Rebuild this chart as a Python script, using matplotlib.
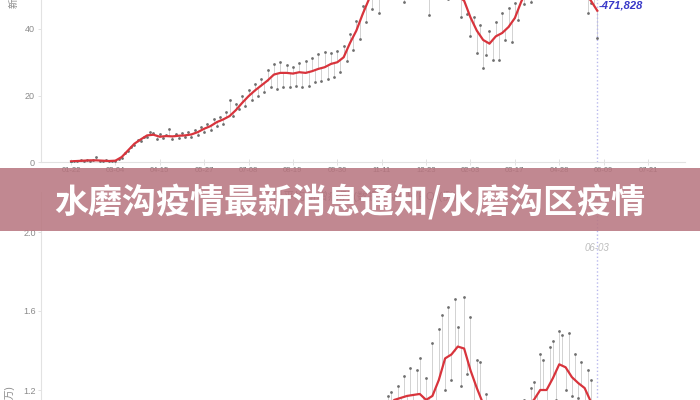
import matplotlib
matplotlib.use('Agg')
import matplotlib.pyplot as plt
import matplotlib.dates as mdates
import numpy as np
import pandas as pd
from matplotlib.patches import Rectangle

plt.rcParams['font.family'] = ['Liberation Sans', 'Noto Sans CJK SC']

title = '水磨沟疫情最新消息通知/水磨沟区疫情'
start = '2020-01-22'
bot_start = '2020-11-05'
marker_date = '2021-06-03'
marker_value = '471,828'
top_ylabel = '新增确诊病例(万)'
bot_ylabel = '新增死亡病例(万)'
x_label = '7日平均新增病例 (数据来源: WHO)(例)'

# new cases (万), every 3 days from 01-22
top_points = [
    0.1, 0.3, 0.2, 0.5, 0.3, 0.6, 0.4, 0.7, 1.6, 0.4,
    0.3, 0.5, 0.2, 0.4, 0.3, 0.8, 1.2, 2.6, 3.2, 4.6,
    5.0, 6.5, 6.3, 7.5, 7.4, 8.9, 8.6, 7.0, 8.3, 7.2,
    8.1, 10.0, 7.0, 8.4, 7.3, 8.8, 7.4, 9.0, 7.6, 9.6,
    8.1, 10.6, 9.1, 11.4, 9.6, 12.9, 10.8, 13.5, 11.3, 15.0,
    18.6, 13.8, 17.4, 16.0, 20.0, 16.8, 21.8, 18.5, 23.6, 19.8,
    25.0, 21.0, 27.8, 22.5, 29.6, 22.0, 30.0, 22.6, 29.2, 22.5,
    28.6, 22.8, 29.8, 22.6, 30.5, 23.0, 31.4, 24.0, 32.5, 24.5,
    33.0, 25.0, 32.8, 25.5, 33.5, 27.2, 35.0, 30.5, 38.6, 33.8,
    42.5, 37.0, 47.0, 42.0, 52, 46.0, 55, 44.8, 57, 50,
    59, 51, 60, 52, 60, 48.0, 61, 52, 61, 53,
    60, 52, 59, 44.2, 60, 51, 58, 50, 57, 49,
    56, 53, 49.5, 43.6, 50, 44.5, 37.9, 43.5, 32.8, 41.2,
    28.3, 32.2, 39.5, 30.7, 42.0, 30.7, 44.8, 36.7, 46.2, 36.0,
    47.8, 42.7, 52, 47.5, 56, 48.0, 58, 50, 59, 52,
    60, 51, 60, 53, 59, 52, 58, 51, 57, 52,
    56, 50, 54, 44.8, 47.8, 51, 37.3,
]

# 7-day average (万), every 6 days from 01-22
top_avg = [
    0.2, 0.3, 0.4, 0.5, 0.5, 0.4, 0.3, 0.4, 1.5, 3.5,
    5.5, 6.8, 8.0, 8.2, 7.6, 7.8, 7.7, 7.9, 8.0, 8.3,
    9.0, 10.0, 10.8, 12.0, 12.8, 13.8, 15.6, 17.8, 19.8, 21.5,
    23.0, 24.5, 26.3, 26.8, 26.8, 26.6, 27.0, 26.8, 27.3, 28.0,
    28.5, 29.5, 30.0, 31.5, 35.8, 39.5, 44.5, 49, 52, 54,
    55, 56, 56, 57, 57, 56, 56, 56, 55, 54,
    52, 50, 48.5, 43.5, 39.5, 36.7, 35.6, 37.8, 38.8, 40.6,
    43.3, 48.2, 52, 54, 55, 56, 56, 56, 55, 54,
    53, 51, 48.5, 45.5,
]

# new deaths (万), every 3 days from 11-05
bot_points = [
    1.10, 0.98, 1.14, 1.02, 1.17, 1.19, 1.06, 1.22, 1.08, 1.27,
    1.10, 1.31, 1.09, 1.30, 1.36, 1.05, 1.26, 1.04, 1.44, 1.12,
    1.51, 1.58, 1.20, 1.62, 1.25, 1.66, 1.52, 1.22, 1.67, 1.28,
    1.57, 1.10, 1.35, 1.34, 0.98, 1.18, 0.95, 1.08, 0.90, 1.05,
    0.88, 1.04, 0.90, 1.08, 0.93, 1.12, 0.98, 1.15, 1.02, 1.21,
    1.24, 1.05, 1.38, 1.35, 1.08, 1.42, 1.45, 1.15, 1.50, 1.48,
    1.20, 1.49, 1.17, 1.38, 1.16, 1.34, 1.12, 1.30, 1.25, 1.02,
    1.04,
]

# 7-day average (万), every 6 days from 11-05
bot_avg = [
    1.05, 1.08, 1.12, 1.15, 1.16, 1.17, 1.175, 1.18, 1.15, 1.17,
    1.25, 1.36, 1.38, 1.42, 1.41, 1.30, 1.21, 1.13, 1.05, 0.98,
    0.95, 0.96, 1.00, 1.05, 1.12, 1.15, 1.20, 1.20, 1.26, 1.33,
    1.315, 1.265, 1.235, 1.21, 1.14, 1.08,
]

top_pt_dates = pd.date_range(start, periods=len(top_points), freq='3D')
top_avg_dates = pd.date_range(start, periods=len(top_avg), freq='6D')
bot_pt_dates = pd.date_range(bot_start, periods=len(bot_points), freq='3D')
bot_avg_dates = pd.date_range(bot_start, periods=len(bot_avg), freq='6D')
tick_dates = pd.date_range(start, '2021-07-21', freq='42D')

W, H = 700, 400
fig = plt.figure(figsize=(7, 4), dpi=100)
fig.patch.set_facecolor('white')

x0 = mdates.date2num(pd.Timestamp(start))
xlim = (x0 - 28.4, x0 + 581)
red = '#d8343c'
dot = '#6f6f6f'
stem = '#d2d2d2'
grey_txt = '#8a8a8a'
spine_c = '#e2e2e2'


def style(ax):
    for s in ['top', 'right']:
        ax.spines[s].set_visible(False)
    for s in ['left', 'bottom']:
        ax.spines[s].set_color(spine_c)
        ax.spines[s].set_linewidth(0.8)
    ax.tick_params(colors=spine_c, labelcolor=grey_txt, length=2.5, width=0.7)
    ax.set_xlim(xlim)


def draw(ax, pt_dates, pts, avg_dates, avg):
    pnum = mdates.date2num(pt_dates)
    anum = mdates.date2num(avg_dates)
    base = np.interp(pnum, anum, avg)
    ax.vlines(pt_dates, pts, base, color=stem, lw=0.7, zorder=1)
    ax.scatter(pt_dates, pts, s=4, color=dot, zorder=3, linewidths=0)
    ax.plot(avg_dates, avg, color=red, lw=1.6, zorder=4)


# top chart: new cases
ax1 = fig.add_axes([41 / W, 238 / H, 644 / W, 70 * 3.325 / H])
style(ax1)
ax1.set_ylim(0, 70)
draw(ax1, top_pt_dates, top_points, top_avg_dates, top_avg)
ax1.set_yticks([0, 20, 40])
ax1.tick_params(axis='y', labelsize=6.5, pad=2)
ax1.set_xticks(tick_dates)
ax1.xaxis.set_major_formatter(mdates.DateFormatter('%m-%d'))
ax1.tick_params(axis='x', labelsize=5.5, pad=1.5, direction='inout', length=4,
                labelcolor='#6a6a6a')
ax1.axvline(pd.Timestamp(marker_date), color='#b9b9ee', lw=1, ls=':', zorder=2)
ax1.annotate('-' + marker_value, (pd.Timestamp(marker_date), 47.2), xytext=(1, 0),
             textcoords='offset points', ha='left', va='center', color='#3838c8',
             fontsize=8, style='italic', weight='bold')

# bottom chart: new deaths
ax2 = fig.add_axes([41 / W, -227 / H, 644 / W, 434.5 / H])
style(ax2)
ax2.set_ylim(0, 2.2)
draw(ax2, bot_pt_dates, bot_points, bot_avg_dates, bot_avg)
ax2.set_yticks([1.2, 1.6, 2.0])
ax2.yaxis.set_major_formatter(matplotlib.ticker.FormatStrFormatter('%.1f'))
ax2.tick_params(axis='y', labelsize=6.5, pad=1)
ax2.set_xticks([])
ax2.axvline(pd.Timestamp(marker_date), color='#b9b9ee', lw=1, ls=':', zorder=2)
ax2.text(pd.Timestamp(marker_date), 1.919, marker_date[5:], ha='center', va='center',
         color='#bdbdbd', fontsize=7, style='italic')

# axis labels (partly cropped, as in the screenshot)
fig.text(13 / W, 392 / H, top_ylabel, rotation=90, ha='center', va='bottom',
         fontsize=7, color=grey_txt)
fig.text(10 / W, 15 / H, bot_ylabel, rotation=90, ha='center', va='top',
         fontsize=7, color=grey_txt)
fig.text(362 / W, 204 / H, x_label, ha='center', va='center', fontsize=8, color='#777777')

# banner with title
fig.add_artist(Rectangle((0, 169 / H), 1, 63 / H, transform=fig.transFigure,
                         facecolor='#b97882', edgecolor='none', alpha=0.88, zorder=10))
fig.text(0.5, 198.5 / H, title, ha='center', va='center', fontsize=24.5, color='white',
         weight='black', family=['Noto Sans CJK SC'], zorder=11)

fig.savefig('out.png', dpi=100)
